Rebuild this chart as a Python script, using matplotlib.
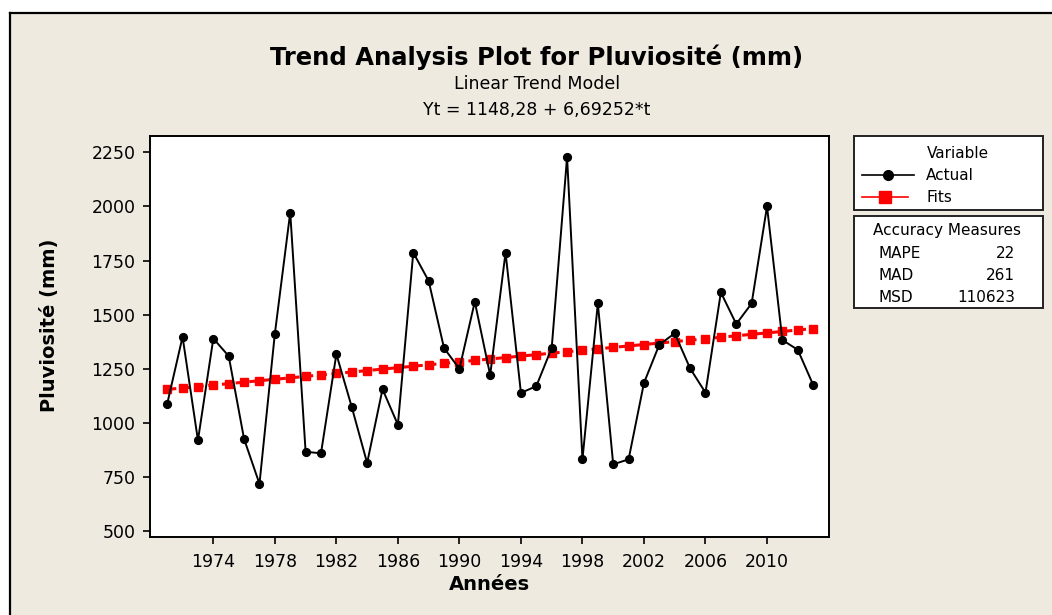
import numpy as np
import matplotlib
matplotlib.use("Agg")
import matplotlib.pyplot as plt
from matplotlib.patches import Rectangle
from matplotlib.lines import Line2D

# Data
years = list(range(1971, 2014))
actual = [1088, 1398, 920, 1390, 1309, 926, 719, 1412, 1972, 867,
          860, 1318, 1074, 815, 1156, 992, 1787, 1656, 1346, 1250,
          1560, 1221, 1787, 1139, 1170, 1346, 2228, 832, 1552, 809,
          832, 1185, 1362, 1414, 1252, 1140, 1603, 1457, 1552, 2000,
          1383, 1338, 1176]
fits = [1155.0, 1161.7, 1168.4, 1175.1, 1181.7, 1188.4, 1195.1, 1201.8, 1208.5, 1215.2,
        1221.9, 1228.6, 1235.3, 1242.0, 1248.7, 1255.4, 1262.1, 1268.7, 1275.4, 1282.1,
        1288.8, 1295.5, 1302.2, 1308.9, 1315.6, 1322.3, 1329.0, 1335.7, 1342.4, 1349.1,
        1355.8, 1362.4, 1369.1, 1375.8, 1382.5, 1389.2, 1395.9, 1402.6, 1409.3, 1416.0,
        1422.7, 1429.4, 1436.1]
xticks = list(range(1974, 2011, 4))
yticks = [500, 750, 1000, 1250, 1500, 1750, 2000, 2250]
measures = ["MAPE", "MAD", "MSD"]
measure_vals = ["22", "261", "110623"]

W, H = 1052, 615
bg = "#eeeae0"
plt.rcParams['font.family'] = ['DejaVu Sans']


def fx(px):
    return px / W


def fy(py):
    return 1 - py / H


fig = plt.figure(figsize=(W / 100, H / 100), dpi=100, facecolor="white")

# beige panel with black border on left and top
fig.add_artist(Rectangle((fx(10), 0), 1, fy(13), transform=fig.transFigure,
                         facecolor=bg, edgecolor="none", zorder=0))
fig.add_artist(Line2D([fx(10), fx(10)], [0, fy(13)], transform=fig.transFigure, color="black", lw=1.6))
fig.add_artist(Line2D([fx(10), 1], [fy(13), fy(13)], transform=fig.transFigure, color="black", lw=1.6))

ax = fig.add_axes([fx(149.5), fy(537.3), fx(829.3 - 149.5), (537.3 - 136.3) / H])
ax.set_facecolor("white")

ax.plot(years, fits, color="red", lw=2.2, ls=(0, (3, 1.5)), marker="s", ms=6.2,
        mfc="red", mec="red", zorder=2)
ax.plot(years, actual, color="black", lw=1.4, marker="o", ms=5.6, zorder=3)

ax.set_xlim(1969.85, 2014.05)
ax.set_ylim(472, 2324)
ax.set_xticks(xticks)
ax.set_yticks(yticks)
ax.tick_params(direction="out", length=5, width=1.2, labelsize=12.5, colors="black")
ax.tick_params(axis="x", pad=6)
ax.tick_params(axis="y", pad=5)
for s in ax.spines.values():
    s.set_linewidth(1.4)

fig.text(fx(489), fy(584), "Années", ha="center", va="center", fontsize=14, fontweight="bold")
fig.text(fx(50), fy(325), "Pluviosité (mm)", ha="center", va="center", rotation=90,
         fontsize=14, fontweight="bold")

# titles
fig.text(fx(537), fy(57), "Trend Analysis Plot for Pluviosité (mm)", ha="center", va="center",
         fontsize=17.5, fontweight="bold")
fig.text(fx(537), fy(84), "Linear Trend Model", ha="center", va="center", fontsize=12.5)
fig.text(fx(537), fy(110), "Yt = 1148,28 + 6,69252*t", ha="center", va="center", fontsize=12.5)

# legend box
fig.add_artist(Rectangle((fx(854), fy(210)), fx(1043 - 854), (210 - 136) / H,
                         transform=fig.transFigure, facecolor="white", edgecolor="#222222", lw=1.4))
fig.text(fx(958), fy(153), "Variable", ha="center", va="center", fontsize=11)
fig.add_artist(Line2D([fx(862), fx(914)], [fy(175), fy(175)], transform=fig.transFigure,
                      color="black", lw=1.2))
fig.add_artist(Line2D([fx(888)], [fy(175)], transform=fig.transFigure, color="black",
                      marker="o", ms=7))
fig.text(fx(926), fy(175), "Actual", ha="left", va="center", fontsize=11)
fig.add_artist(Line2D([fx(862), fx(908)], [fy(197), fy(197)], transform=fig.transFigure,
                      color="red", lw=1.2))
fig.add_artist(Line2D([fx(885)], [fy(197)], transform=fig.transFigure, color="red",
                      marker="s", ms=8))
fig.text(fx(926), fy(197), "Fits", ha="left", va="center", fontsize=11)

# accuracy measures box
fig.add_artist(Rectangle((fx(854), fy(308)), fx(1043 - 854), (308 - 216) / H,
                         transform=fig.transFigure, facecolor="white", edgecolor="#222222", lw=1.4))
fig.text(fx(947), fy(231), "Accuracy Measures", ha="center", va="center", fontsize=11)
for i, (name, val) in enumerate(zip(measures, measure_vals)):
    yy = fy(253 + 22 * i)
    fig.text(fx(878), yy, name, ha="left", va="center", fontsize=11)
    fig.text(fx(1015), yy, val, ha="right", va="center", fontsize=11)

fig.savefig("out.png", dpi=100, facecolor=fig.get_facecolor())
